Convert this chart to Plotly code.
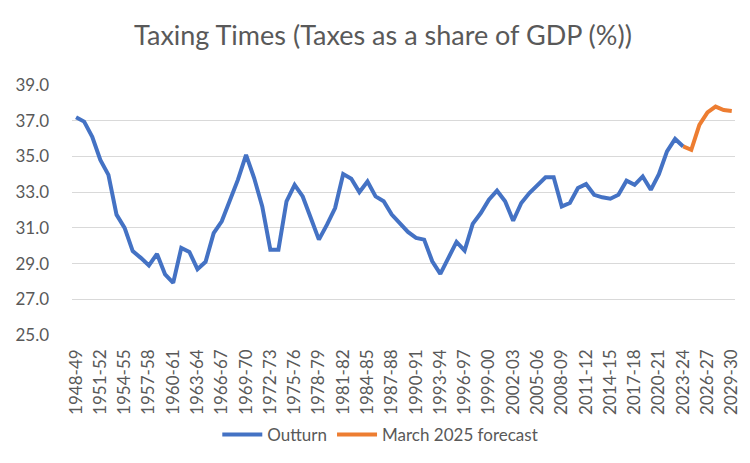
import plotly.graph_objects as go

start_years = list(range(1948, 2030))
categories = [f"{y}-{str(y + 1)[-2:]}" for y in start_years]

outturn = [37.2, 36.95, 36.1, 34.8, 33.97, 31.74, 31.0, 29.7, 29.32, 28.9,
           29.54, 28.39, 27.92, 29.88, 29.65, 28.69, 29.1, 30.7, 31.37, 32.49,
           33.7, 35.09, 33.79, 32.2, 29.78, 29.78, 32.49, 33.41, 32.76, 31.55,
           30.34, 31.18, 32.11, 34.01, 33.75, 33.0, 33.6, 32.76, 32.49, 31.74,
           31.22, 30.77, 30.44, 30.34, 29.13, 28.42, 29.32, 30.21, 29.73, 31.22,
           31.83, 32.58, 33.08, 32.49, 31.4, 32.39, 32.95, 33.41, 33.83, 33.83,
           32.2, 32.39, 33.23, 33.45, 32.85, 32.71, 32.63, 32.85, 33.64, 33.41,
           33.88, 33.13, 34.01, 35.28, 35.98, 35.56]
forecast_cats = categories[75:]
forecast = [35.56, 35.37, 36.77, 37.47, 37.79, 37.6, 37.55]

tick_labels = categories[::3]

FONT = "Lato"
GREY = "#595959"

fig = go.Figure()
fig.add_trace(go.Scatter(x=categories[:len(outturn)], y=outturn, mode="lines",
                         name="Outturn", line=dict(color="#4472C4", width=4)))
fig.add_trace(go.Scatter(x=forecast_cats, y=forecast, mode="lines",
                         name="March 2025 forecast", line=dict(color="#ED7D31", width=4)))

fig.update_layout(
    width=750, height=463,
    margin=dict(l=64, r=23, t=77, b=136),
    paper_bgcolor="white", plot_bgcolor="white",
    font=dict(family=FONT, color=GREY, size=16),
    title=dict(text="Taxing Times (Taxes as a share of GDP (%))", x=0.5, xanchor="center",
               y=0.94, yanchor="middle", yref="container",
               font=dict(family=FONT, size=27, color=GREY)),
    showlegend=True,
    legend=dict(orientation="h", x=0.465, xanchor="center", y=-0.4, yanchor="middle",
                font=dict(size=17, color=GREY), itemwidth=40),
)
fig.update_xaxes(type="category", categoryorder="array", categoryarray=categories,
                 tickmode="array", tickvals=tick_labels, ticktext=tick_labels,
                 tickangle=-90, showgrid=False, showline=False, ticks="",
                 automargin=False, ticklabelstandoff=10,
                 range=[-0.5, 81.4], tickfont=dict(size=17, color=GREY))
fig.update_yaxes(range=[25, 39], dtick=2, tick0=25, tickformat=".1f",
                 showgrid=True, gridcolor="#D9D9D9", gridwidth=1.3,
                 zeroline=False, showline=False, ticks="",
                 automargin=False, ticklabelstandoff=22,
                 tickfont=dict(size=17, color=GREY))

fig.write_html("out.html")
